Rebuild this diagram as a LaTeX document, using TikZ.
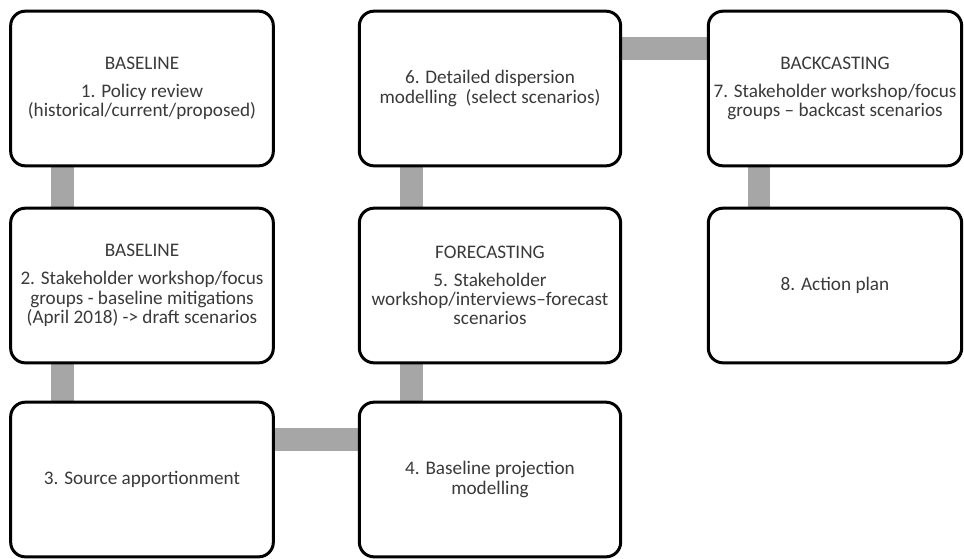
\documentclass[tikz,border=0pt]{standalone}
\usepackage{fontspec}
\setmainfont{Carlito}
\usetikzlibrary{backgrounds}
\definecolor{txtgray}{HTML}{3A3A3A}
\definecolor{linkgray}{HTML}{A6A6A6}
\tikzset{
  stage/.style={draw=black, line width=2.25pt, rounded corners=11pt, fill=white,
    align=center, text=txtgray, inner sep=0pt, minimum height=116pt,
    font=\fontsize{14.4}{14.4}\selectfont},
  link/.style={draw=linkgray, line width=17pt}
}
\begin{document}
\begin{tikzpicture}[x=0.75pt,y=-0.75pt]
      \useasboundingbox (0,0) rectangle (964,558);
      % stages
      \node[stage, minimum width=197pt] (s1) at (142, 88.5) {BASELINE\\[6.6pt]1. Policy review\\(historical/current/proposed)};
      \node[stage, minimum width=197pt] (s2) at (142, 285.5) {BASELINE\\[6.6pt]2. Stakeholder workshop/focus\\groups - baseline mitigations\\(April 2018) -{}> draft scenarios};
      \node[stage, minimum width=197pt] (s3) at (142, 479.5) {3. Source apportionment};
      \node[stage, minimum width=196pt] (s4) at (490, 479.5) {4. Baseline projection\\modelling};
      \node[stage, minimum width=196pt] (s5) at (490, 285.5) {FORECASTING\\[6.6pt]5. Stakeholder\\workshop/interviews--forecast\\scenarios};
      \node[stage, minimum width=196pt] (s6) at (490, 88.5) {6. Detailed dispersion\\modelling \ (select scenarios)};
      \node[stage, minimum width=190pt] (s7) at (835, 88.5) {BACKCASTING\\[6.6pt]7. Stakeholder workshop/focus\\groups -- backcast scenarios};
      \node[stage, minimum width=190pt] (s8) at (835, 285.5) {8. Action plan};
      % links
      \begin{scope}[on background layer]
        \draw[link] ([xshift=40pt]s1.south west) -- ([xshift=40pt]s2.north west);
        \draw[link] ([xshift=40pt]s2.south west) -- ([xshift=40pt]s3.north west);
        \draw[link] ([yshift=-29pt]s3.north east) -- ([yshift=-29pt]s4.north west);
        \draw[link] ([xshift=40pt]s4.north west) -- ([xshift=40pt]s5.south west);
        \draw[link] ([xshift=40pt]s5.north west) -- ([xshift=40pt]s6.south west);
        \draw[link] ([yshift=-29pt]s6.north east) -- ([yshift=-29pt]s7.north west);
        \draw[link] ([xshift=39pt]s7.south west) -- ([xshift=39pt]s8.north west);
      \end{scope}
    \end{tikzpicture}
\end{document}
